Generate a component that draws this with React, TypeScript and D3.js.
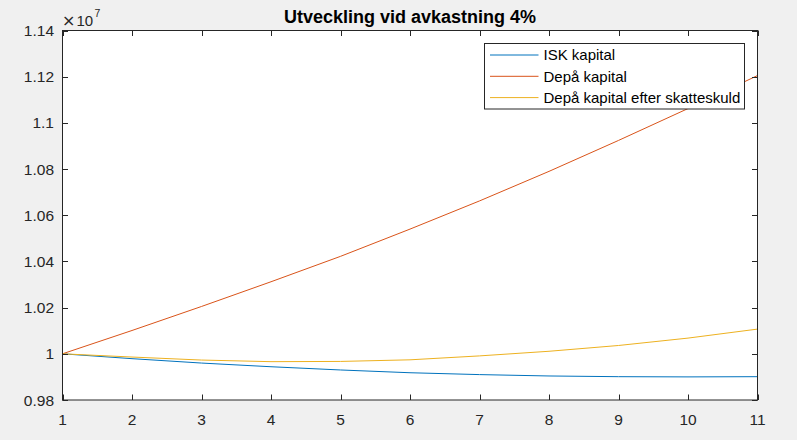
import React from "react";
import * as d3 from "d3";

const years = [1, 2, 3, 4, 5, 6, 7, 8, 9, 10, 11];
// values in units of 1e7
const iskKapital = [1.0, 0.9979, 0.996, 0.9944, 0.993, 0.9918, 0.991, 0.9904, 0.9901, 0.99, 0.9901];
const depaKapital = [1.0, 1.0101, 1.0205, 1.0312, 1.0422, 1.054, 1.0662, 1.079, 1.0924, 1.1062, 1.1205];
const depaEfterSkatt = [1.0, 0.9986, 0.9973, 0.9966, 0.9967, 0.9974, 0.9991, 1.0011, 1.0036, 1.0068, 1.0107];

const seriesNames = ["ISK kapital", "Depå kapital", "Depå kapital efter skatteskuld"];
const seriesColors = ["#0072BD", "#D95319", "#EDB120"];
const xTicks = [1, 2, 3, 4, 5, 6, 7, 8, 9, 10, 11];
const yTicks = [0.98, 1.0, 1.02, 1.04, 1.06, 1.08, 1.1, 1.12, 1.14];
const yTickLabels = ["0.98", "1", "1.02", "1.04", "1.06", "1.08", "1.1", "1.12", "1.14"];
const title = "Utveckling vid avkastning 4%";

export default function App() {
  const W = 797, H = 440;
  const L = 62.5, R = 757.5, T = 30.5, B = 400;
  const x = d3.scaleLinear().domain([1, 11]).range([L, R]);
  const y = d3.scaleLinear().domain([0.98, 1.14]).range([B, T]);
  const line = d3.line<number>().x((_, i) => x(years[i])).y((d) => y(d));
  const data = [iskKapital, depaKapital, depaEfterSkatt];
  const axisColor = "#262626";
  const font = "'Liberation Sans', Arial, Helvetica, sans-serif";
  const tl = 5.5;
  const lgX = 484.5, lgY = 43.5, lgW = 260, lgH = 65.5;
  return (
    <div style={{ position: "fixed", left: 0, top: 0, width: W, height: H }}>
      <svg width={W} height={H} style={{ display: "block", fontFamily: font }}>
        <rect x={0} y={0} width={W} height={H} fill="#f0f0f0" />
        <rect x={L} y={T} width={R - L} height={B - T} fill="#ffffff" />
        <defs>
          <clipPath id="plotclip">
            <rect x={L} y={T} width={R - L} height={B - T} />
          </clipPath>
        </defs>
        <g clipPath="url(#plotclip)">
          {data.map((d, i) => (
            <path key={i} d={line(d) || ""} fill="none" stroke={seriesColors[i]} strokeWidth={1} />
          ))}
        </g>
        <rect x={L} y={T} width={R - L} height={B - T} fill="none" stroke={axisColor} strokeWidth={1} />
        {xTicks.map((t) => (
          <g key={"x" + t}>
            <line x1={Math.round(x(t)) + 0.5} x2={Math.round(x(t)) + 0.5} y1={B} y2={B - tl} stroke={axisColor} />
            <line x1={Math.round(x(t)) + 0.5} x2={Math.round(x(t)) + 0.5} y1={T} y2={T + tl} stroke={axisColor} />
            <text x={x(t)} y={425} textAnchor="middle" fontSize={15.5} fill={axisColor}>{t}</text>
          </g>
        ))}
        {yTicks.map((t, i) => (
          <g key={"y" + i}>
            <line x1={L} x2={L + tl} y1={Math.round(y(t)) + 0.5} y2={Math.round(y(t)) + 0.5} stroke={axisColor} />
            <line x1={R} x2={R - tl} y1={Math.round(y(t)) + 0.5} y2={Math.round(y(t)) + 0.5} stroke={axisColor} />
            <text x={54} y={y(t) + 5.5} textAnchor="end" fontSize={15.5} fill={axisColor}>{yTickLabels[i]}</text>
          </g>
        ))}
        <text x={62} y={26} fontSize={16} fontFamily="'DejaVu Sans', sans-serif" fill={axisColor}>×</text>
        <text x={76.5} y={25.7} fontSize={15} fill={axisColor}>10</text>
        <text x={94.5} y={17} fontSize={10.5} fill={axisColor}>7</text>
        <text x={(L + R) / 2} y={22.7} textAnchor="middle" fontSize={18} fontWeight="bold" fill="#000000">
          {title}
        </text>
        <rect x={lgX} y={lgY} width={lgW} height={lgH} fill="#ffffff" stroke={axisColor} strokeWidth={1} />
        {seriesNames.map((n, i) => {
          const yy = 55 + i * 21.3;
          return (
            <g key={n}>
              <line x1={490} x2={538.5} y1={yy} y2={yy} stroke={seriesColors[i]} strokeWidth={1} />
              <text x={543.5} y={yy + 5.2} fontSize={15} fill="#000000">{n}</text>
            </g>
          );
        })}
      </svg>
    </div>
  );
}
